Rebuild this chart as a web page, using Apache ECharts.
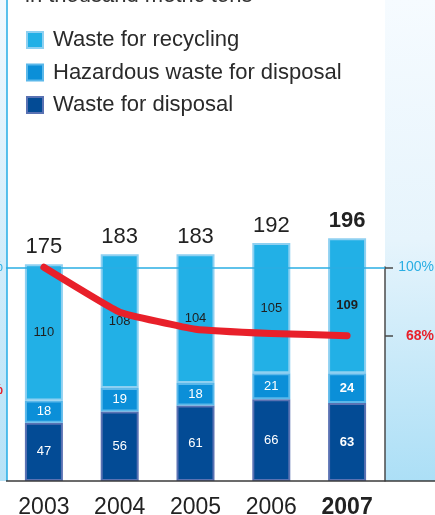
<!DOCTYPE html>
<html>
<head>
<meta charset="utf-8">
<script src="https://cdn.jsdelivr.net/npm/echarts@6/dist/echarts.min.js"></script>
<style>
  html, body { margin: 0; padding: 0; background: #fff; }
  #chart { width: 435px; height: 515px; }
</style>
</head>
<body>
<div id="chart"></div>
<script>
// values, thousand metric tons
const years = ['2003', '2004', '2005', '2006', '2007'];
const recycling = [110, 108, 104, 105, 109];
const hazardous = [18, 19, 18, 21, 24];
const disposal = [47, 56, 61, 66, 63];
const totals = [175, 183, 183, 192, 196];
// red index line, percent of 2003
const indexLine = [100, 79, 71, 69, 68];
const rightTicks = [68, 100];

const seriesNames = ['Waste for recycling', 'Hazardous waste for disposal', 'Waste for disposal'];
const font = "'Liberation Sans', Arial, sans-serif";

// last year is printed bold
function boldLast(arr) {
  return arr.map(function (v, i) {
    return i === arr.length - 1 ? { value: v, label: { fontWeight: 'bold' } } : v;
  });
}

let chart = echarts.init(document.getElementById('chart'));
chart.setOption({
  animation: false,
  graphic: [
    // right side panel
    {
      type: 'rect', z: -10, silent: true,
      shape: { x: 385, y: 0, width: 50, height: 481 },
      style: {
        fill: new echarts.graphic.LinearGradient(0, 0, 0.3, 1, [
          { offset: 0, color: '#f6fbff' },
          { offset: 0.5, color: '#e6f4fc' },
          { offset: 1, color: '#acdff6' }
        ])
      }
    },
    // left side strip
    {
      type: 'rect', z: -10, silent: true,
      shape: { x: 0, y: 0, width: 7, height: 481 },
      style: {
        fill: new echarts.graphic.LinearGradient(0, 0, 0, 1, [
          { offset: 0, color: '#f2f9fe' },
          { offset: 1, color: '#b6e2f7' }
        ])
      }
    },
    {
      type: 'line', z: -5, silent: true,
      shape: { x1: 7, y1: 0, x2: 7, y2: 481 },
      style: { stroke: '#25ade6', lineWidth: 1.5 }
    },
    // baseline
    {
      type: 'line', z: 50, silent: true,
      shape: { x1: 6, y1: 481, x2: 435, y2: 481 },
      style: { stroke: '#3a3a3a', lineWidth: 1.5 }
    },
    // cut-off pieces of neighbouring text
    {
      type: 'text', silent: true, x: 25, y: -4,
      style: { text: 'in thousand metric tons', font: '22px ' + font, fill: '#333', verticalAlign: 'middle' }
    },
    {
      type: 'text', silent: true, x: 3, y: 267,
      style: { text: '100%', font: '14px ' + font, fill: '#2aaee3', align: 'right', verticalAlign: 'middle' }
    },
    {
      type: 'text', silent: true, x: 3, y: 390,
      style: { text: '68%', font: 'bold 14px ' + font, fill: '#e8202a', align: 'right', verticalAlign: 'middle' }
    }
  ],
  legend: {
    data: seriesNames,
    orient: 'vertical',
    left: 26,
    top: 29,
    padding: 0,
    itemWidth: 16,
    itemHeight: 16,
    itemGap: 10.5,
    icon: 'rect',
    selectedMode: false,
    textStyle: {
      fontFamily: font, fontSize: 22, color: '#2a2a2a',
      padding: [0, 0, 0, 5]
    }
  },
  grid: [
    { left: 6, right: 50, top: 201, bottom: 34, outerBoundsMode: 'none' },
    { left: 6, right: 50, top: 267, bottom: 34, outerBoundsMode: 'none' }
  ],
  xAxis: [
    {
      type: 'category',
      data: years,
      gridIndex: 0,
      axisLine: { show: false },
      axisTick: { show: false },
      axisLabel: {
        interval: 0,
        margin: 15,
        fontFamily: font,
        fontSize: 23,
        color: '#222',
        formatter: function (v, i) { return i === years.length - 1 ? '{b|' + v + '}' : v; },
        rich: { b: { fontFamily: font, fontSize: 23, fontWeight: 'bold', color: '#222' } }
      }
    },
    { type: 'category', data: years, gridIndex: 1, show: false }
  ],
  yAxis: [
    { type: 'value', gridIndex: 0, min: 0, max: 226, show: false },
    {
      type: 'value', gridIndex: 0, min: 0, max: 131, position: 'right',
      splitLine: { show: false },
      axisLine: { show: false },
      axisTick: {
        show: true, customValues: rightTicks, length: 8,
        lineStyle: { color: '#4a4a4a', width: 1.5 }
      },
      axisLabel: {
        customValues: rightTicks,
        margin: 49,
        align: 'right',
        formatter: function (v) { return v === 100 ? '{b|' + v + '%}' : '{r|' + v + '%}'; },
        rich: {
          b: { fontFamily: font, fontSize: 14, color: '#2aaee3' },
          r: { fontFamily: font, fontSize: 14, fontWeight: 'bold', color: '#e8202a' }
        }
      }
    },
    {
      type: 'value', gridIndex: 1, position: 'right',
      splitLine: { show: false },
      axisTick: { show: false },
      axisLabel: { show: false },
      axisLine: { show: true, lineStyle: { color: '#4a4a4a', width: 1.5 } }
    }
  ],
  series: [
    {
      // 100% reference line behind the bars
      type: 'line', yAxisIndex: 1, data: [], z: 1, silent: true,
      markLine: {
        silent: true, symbol: 'none', label: { show: false },
        lineStyle: { color: '#2aaee3', width: 1.5, type: 'solid' },
        data: [{ yAxis: 100 }]
      }
    },
    {
      name: seriesNames[2], type: 'bar', stack: 'w', barWidth: 38,
      data: boldLast(disposal),
      itemStyle: { color: '#034b95', borderColor: '#5a72b3', borderWidth: 2 },
      label: { show: true, position: 'inside', color: '#fff', fontFamily: font, fontSize: 13 }
    },
    {
      name: seriesNames[1], type: 'bar', stack: 'w', barWidth: 38,
      data: boldLast(hazardous),
      itemStyle: { color: '#0b8fd8', borderColor: '#5bb8ea', borderWidth: 2 },
      label: { show: true, position: 'inside', color: '#fff', fontFamily: font, fontSize: 13 }
    },
    {
      name: seriesNames[0], type: 'bar', stack: 'w', barWidth: 38,
      data: boldLast(recycling),
      itemStyle: { color: '#22b0e6', borderColor: '#8ed0f1', borderWidth: 2 },
      label: { show: true, position: 'inside', color: '#1f1f1f', fontFamily: font, fontSize: 13 }
    },
    {
      // totals printed above each stack
      type: 'bar', stack: 'w', barWidth: 38, silent: true,
      data: totals.map(function () { return 0; }),
      itemStyle: { color: 'transparent', borderWidth: 0 },
      label: {
        show: true, position: 'top', distance: 6,
        fontFamily: font, fontSize: 22, color: '#222',
        formatter: function (p) {
          return p.dataIndex === totals.length - 1 ? '{b|' + totals[p.dataIndex] + '}' : totals[p.dataIndex];
        },
        rich: { b: { fontFamily: font, fontSize: 22, fontWeight: 'bold', color: '#222' } }
      }
    },
    {
      type: 'line', yAxisIndex: 1, data: indexLine, z: 10,
      showSymbol: false, symbol: 'none', smooth: 0.1,
      lineStyle: { color: '#e8202a', width: 7, cap: 'round', join: 'round' }
    }
  ]
});
</script>
</body>
</html>
